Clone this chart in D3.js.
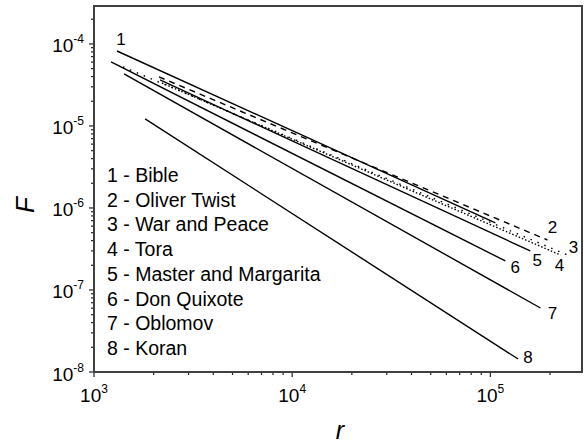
<!DOCTYPE html>
<html>
<head>
<meta charset="utf-8">
<script src="https://cdn.jsdelivr.net/npm/d3@7"></script>
<style>
  body { margin: 0; background: #fff; }
  text { font-family: "Liberation Sans", Arial, sans-serif; fill: #000; }
</style>
</head>
<body>
<svg id="chart" width="584" height="444"></svg>
<script>
// books and their rank-frequency lines
const books = ["Bible", "Oliver Twist", "War and Peace", "Tora",
               "Master and Margarita", "Don Quixote", "Oblomov", "Koran"];
const rStart = [1306, 2128, 1400, 2203, 2154, 1219, 1418, 1811];
const rEnd   = [1.06e5, 1.94e5, 2.45e5, 2.26e5, 1.59e5, 1.19e5, 1.79e5, 1.38e5];
const fStart = [8.2e-5, 3.96e-5, 5.25e-5, 3.34e-5, 3.64e-5, 6.03e-5, 4.31e-5, 1.22e-5];
const fEnd   = [6.56e-7, 4.07e-7, 2.67e-7, 2.67e-7, 2.99e-7, 2.26e-7, 6.03e-8, 1.44e-8];
const xMajor = [1e3, 1e4, 1e5];
const yMajor = [1e-8, 1e-7, 1e-6, 1e-5, 1e-4];

let svg = d3.select("#chart");

const x = d3.scaleLog().domain([1e3, 2.9e5]).range([94, 582]);
const y = d3.scaleLog().domain([1e-8, 2.9e-4]).range([372, 6]);

// line styles, one per book
const dashes = [null, "6,5", "1.5,6", "1.5,2", null, null, null, null];
// where the number sits next to the end of each line
const numOff = [[4, -12], [5, -13], [6, -8], [-1, 10], [7, 9], [10, 6], [12, 5], [10, -2]];

// minor + major ticks, outside
let xt = x.ticks().filter(d => d <= 2.9e5);
let yt = y.ticks().filter(d => d <= 2.9e-4);
let isMajor = d => Math.abs(Math.log10(d) - Math.round(Math.log10(d))) < 1e-6;

svg.selectAll(".xt").data(xt).enter().append("line")
    .attr("x1", d => x(d)).attr("x2", d => x(d))
    .attr("y1", 372).attr("y2", d => isMajor(d) ? 377 : 375)
    .attr("stroke", "#222").attr("stroke-width", 1.2);

svg.selectAll(".yt").data(yt).enter().append("line")
    .attr("y1", d => y(d)).attr("y2", d => y(d))
    .attr("x1", 94).attr("x2", d => isMajor(d) ? 89 : 91)
    .attr("stroke", "#222").attr("stroke-width", 1.2);

// frame
svg.append("rect")
    .attr("x", 94).attr("y", 6).attr("width", 488).attr("height", 366)
    .attr("fill", "none").attr("stroke", "#404040").attr("stroke-width", 2);

// tick labels like 10^3
xMajor.forEach(v => {
    let t = svg.append("text")
        .attr("x", x(v)).attr("y", 402)
        .attr("text-anchor", "middle")
        .attr("font-size", "19px");
    t.append("tspan").text("10");
    t.append("tspan").attr("dy", -9).attr("font-size", "12px").text(Math.round(Math.log10(v)));
});

yMajor.forEach(v => {
    let t = svg.append("text")
        .attr("x", 84).attr("y", y(v) + 8.5)
        .attr("text-anchor", "end")
        .attr("font-size", "19px");
    t.append("tspan").text("10");
    t.append("tspan").attr("dy", -9).attr("font-size", "12px").text(Math.round(Math.log10(v)));
});

// axis titles
svg.append("text")
    .attr("x", 340).attr("y", 439)
    .attr("text-anchor", "middle")
    .attr("font-size", "25px").attr("font-style", "italic")
    .text("r");

svg.append("text")
    .attr("transform", "translate(34,205) rotate(-90)")
    .attr("text-anchor", "middle")
    .attr("font-size", "26px").attr("font-style", "italic")
    .text("F");

// the lines
for (let i = 0; i < books.length; i++) {
    svg.append("line")
        .attr("x1", x(rStart[i])).attr("y1", y(fStart[i]))
        .attr("x2", x(rEnd[i])).attr("y2", y(fEnd[i]))
        .attr("stroke", "#000").attr("stroke-width", 1.4)
        .attr("stroke-dasharray", dashes[i]);

    // number of the line: first one at its start, others at the end
    let px = i == 0 ? x(rStart[i]) : x(rEnd[i]);
    let py = i == 0 ? y(fStart[i]) : y(fEnd[i]);
    svg.append("text")
        .attr("x", px + numOff[i][0]).attr("y", py + numOff[i][1] + 6)
        .attr("text-anchor", "middle")
        .attr("font-size", "17px")
        .text(i + 1);
}

// legend
books.forEach((b, i) => {
    svg.append("text")
        .attr("x", 107).attr("y", 175 + i * 24.7 + 7)
        .attr("font-size", "19.5px")
        .text((i + 1) + " - " + b);
});
</script>
</body>
</html>
